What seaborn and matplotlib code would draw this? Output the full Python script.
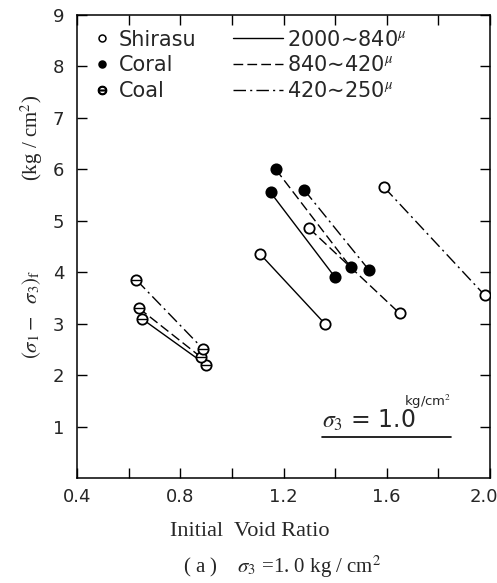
import matplotlib
matplotlib.use("Agg")
import matplotlib.pyplot as plt
import matplotlib.transforms as mtransforms
import seaborn as sns
import pandas as pd
from matplotlib.lines import Line2D

# Dados: cada par liga e0 (inicio) a e1 (fim)
materiais = ["Shirasu", "Coral", "Coal"]
graos = ["2000∼840", "840∼420", "420∼250"]

shirasu_e_ini = [1.11, 1.30, 1.59]
shirasu_e_fim = [1.36, 1.65, 1.98]
shirasu_q_ini = [4.35, 4.85, 5.65]
shirasu_q_fim = [3.00, 3.20, 3.55]

coral_e_ini = [1.15, 1.17, 1.28]
coral_e_fim = [1.40, 1.46, 1.53]
coral_q_ini = [5.55, 6.00, 5.60]
coral_q_fim = [3.90, 4.10, 4.05]

coal_e_ini = [0.65, 0.64, 0.63]
coal_e_fim = [0.90, 0.88, 0.89]
coal_q_ini = [3.10, 3.30, 3.85]
coal_q_fim = [2.20, 2.35, 2.50]

x_ticks = [0.4, 0.8, 1.2, 1.6, 2.0]
x_minor = [0.6, 1.0, 1.4, 1.8]
y_ticks = [1, 2, 3, 4, 5, 6, 7, 8, 9]

# Tabela longa para o seaborn
linhas = []
series = {
    "Shirasu": (shirasu_e_ini, shirasu_e_fim, shirasu_q_ini, shirasu_q_fim),
    "Coral": (coral_e_ini, coral_e_fim, coral_q_ini, coral_q_fim),
    "Coal": (coal_e_ini, coal_e_fim, coal_q_ini, coal_q_fim),
}
for mat, (e0, e1, q0, q1) in series.items():
    for i, g in enumerate(graos):
        par = f"{mat}-{i}"
        linhas.append({"material": mat, "grao": g, "par": par, "e": e0[i], "q": q0[i]})
        linhas.append({"material": mat, "grao": g, "par": par, "e": e1[i], "q": q1[i]})
df = pd.DataFrame(linhas)

sns.set_style("ticks")
plt.rcParams["font.family"] = ["DejaVu Sans"]
plt.rcParams["mathtext.fontset"] = "stix"

fig = plt.figure(figsize=(4.97, 5.83), dpi=100)
ax = fig.add_axes([77 / 497, 105 / 583, 413 / 497, 463 / 583])

tracos = {"2000∼840": "", "840∼420": (7, 3), "420∼250": (9, 3, 1.5, 3)}
sns.lineplot(data=df, x="e", y="q", units="par", estimator=None, style="grao",
             dashes=tracos, color="black", lw=1.0, sort=False, legend=False, ax=ax)

cores = {"Shirasu": "white", "Coral": "black", "Coal": "white"}
for mat in materiais:
    sub = df[df.material == mat]
    sns.scatterplot(data=sub, x="e", y="q", marker="o", s=55, color=cores[mat],
                    edgecolor="black", linewidth=1.3, legend=False, ax=ax, zorder=3)
    if mat == "Coal":
        sns.scatterplot(data=sub, x="e", y="q", marker="_", s=55, color="black",
                        linewidth=1.0, legend=False, ax=ax, zorder=4)

ax.set_xlim(0.4, 2.0)
ax.set_ylim(0, 9)
ax.set_xticks(x_ticks)
ax.set_xticks(x_minor, minor=True)
ax.set_xticklabels([f"{v:.1f}" for v in x_ticks])
ax.set_yticks(y_ticks)
ax.set_yticklabels([str(v) for v in y_ticks])
ax.tick_params(which="both", direction="in", top=True, right=True, length=7,
               width=1, labelsize=13, color="black")
ax.tick_params(axis="x", pad=7)
ax.tick_params(axis="y", pad=9)
ax.set_xlabel("")
ax.set_ylabel("")
for s in ax.spines.values():
    s.set_linewidth(1.1)
    s.set_color("black")

# ultimo rotulo do eixo x encostado na borda
ult = ax.get_xticklabels()[-1]
ult.set_ha("right")
ult.set_transform(ult.get_transform() + mtransforms.ScaledTranslation(6 / 72, 0, fig.dpi_scale_trans))

# legendas
h_mat = [
    Line2D([], [], ls="none", marker="o", ms=5, mfc="white", mec="black", mew=1.1),
    Line2D([], [], ls="none", marker="o", ms=5, mfc="black", mec="black", mew=1.1),
    Line2D([], [], ls="none", marker="$\\ominus$", ms=6, color="black"),
]
leg1 = ax.legend(h_mat, materiais, loc="upper left", bbox_to_anchor=(0.011, 1.0),
                 frameon=False, fontsize=15, handlelength=0.6, handletextpad=0.5,
                 labelspacing=0.28, borderaxespad=0.3)
ax.add_artist(leg1)
h_lin = [
    Line2D([], [], color="black", lw=1.0),
    Line2D([], [], color="black", lw=1.0, dashes=(7, 3)),
    Line2D([], [], color="black", lw=1.0, dashes=(9, 3, 1.5, 3)),
]
rot_lin = [g + "$^{\\mu}$" for g in graos]
ax.legend(h_lin, rot_lin, loc="upper left", bbox_to_anchor=(0.342, 1.0),
          frameon=False, fontsize=15, handlelength=2.4, handletextpad=0.2,
          labelspacing=0.28, borderaxespad=0.3)

# anotacao sigma3
ax.text(1.35, 0.97, "$\\sigma_3$ = 1.0", fontsize=17, ha="left", va="baseline")
ax.text(1.665, 1.3, "kg/cm$^2$", fontsize=9.5, ha="left", va="bottom")
ax.plot([1.35, 1.85], [0.8, 0.8], color="black", lw=1.2)

fig.text(32 / 497, 1 - 138 / 583, "(kg / cm$^2$)",
         rotation=90, ha="center", va="center", fontsize=15, family="Liberation Serif")
fig.text(32 / 497, 1 - 314 / 583, "$(\\sigma_1 -\\ \\ \\sigma_3)_{\\rm f}$",
         rotation=90, ha="center", va="center", fontsize=15, family="Liberation Serif")
fig.text(250 / 497, 1 - 531 / 583, "Initial  Void Ratio", ha="center", va="center",
         fontsize=16, family="Liberation Serif")
fig.text(282 / 497, 1 - 567 / 583, "( a )    $\\sigma_3$ =1. 0 kg / cm$^2$",
         ha="center", va="center", fontsize=15, family="Liberation Serif")

fig.savefig("out.png", dpi=100)
